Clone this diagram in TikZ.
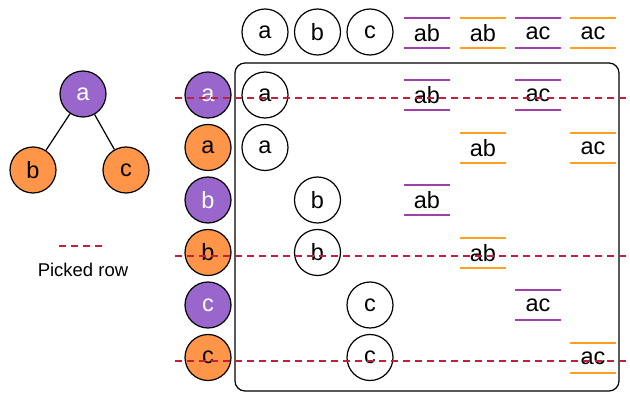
\documentclass[tikz,border=0pt]{standalone}
\usepackage{fontspec}
\setmainfont{Liberation Sans}
\definecolor{pfill}{HTML}{9966CC}
\definecolor{ofill}{HTML}{FF9548}
\definecolor{pline}{HTML}{A040A8}
\definecolor{oline}{HTML}{FFA020}
\definecolor{pick}{HTML}{C41E3A}
\begin{document}
\begin{tikzpicture}[x=1pt,y=-1pt,
  circ/.style={circle,draw=black,line width=1.2pt,minimum size=46pt,inner sep=0pt,font=\fontsize{23.5}{26}\selectfont},
  pc/.style={circ,fill=pfill,text=white},
  oc/.style={circ,fill=ofill,text=black},
  wc/.style={circ,fill=white},
  lbl/.style={inner sep=0pt,minimum width=46pt,minimum height=30pt,font=\fontsize{23.5}{26}\selectfont},
  pbar/.style={line width=2pt,draw=pline},
  obar/.style={line width=2pt,draw=oline},
  pickline/.style={draw=pick,line width=1.2pt,dash pattern=on 7pt off 5pt},
  edge/.style={draw=black,line width=1.2pt}]
\useasboundingbox (0,0) rectangle (630,393);
% tree
\node[pc] (ta) at (83,94) {a};
\node[oc] (tb) at (33,170) {b};
\node[oc] (tc) at (126,170) {c};
\draw[edge] (ta) -- (tb);
\draw[edge] (ta) -- (tc);
% legend
\coordinate (l1) at (59,246);
\coordinate (l2) at (104,246);
\draw[pickline] (l1) -- (l2);
\node[font=\fontsize{18.5}{20}\selectfont] (legend) at (83,270) {Picked row};
% box
\node[draw=black,line width=1.2pt,rounded corners=10pt,minimum width=384pt,minimum height=328pt,inner sep=0pt] (box) at (427,227) {};
% header
\node[wc] (ha) at (265,32) {a};
\node[wc] (hb) at (317.5,32) {b};
\node[wc] (hc) at (370,32) {c};
\node[lbl] (h1) at (427,33) {ab};
\node[lbl] (h2) at (483,33) {ab};
\node[lbl] (h3) at (538,33) {ac};
\node[lbl] (h4) at (593,33) {ac};
% left column
\node[pc] (r1) at (208,95) {a};
\node[oc] (r2) at (208,147.5) {a};
\node[pc] (r3) at (208,200) {b};
\node[oc] (r4) at (208,252.5) {b};
\node[pc] (r5) at (208,305) {c};
\node[oc] (r6) at (208,357.5) {c};
% body
\node[wc] (c1) at (265,95) {a};
\node[wc] (c2) at (265,147.5) {a};
\node[wc] (c3) at (317.5,200) {b};
\node[wc] (c4) at (317.5,252.5) {b};
\node[wc] (c5) at (370,305) {c};
\node[wc] (c6) at (370,357.5) {c};
\node[lbl] (e1) at (427,95) {ab};
\node[lbl] (e2) at (538,95) {ac};
\node[lbl] (e3) at (483,148) {ab};
\node[lbl] (e4) at (593,148) {ac};
\node[lbl] (e5) at (427,200) {ab};
\node[lbl] (e6) at (483,253) {ab};
\node[lbl] (e7) at (538,305) {ac};
\node[lbl] (e8) at (593,358) {ac};
\foreach \nm in {h1,h3,e1,e2,e5,e7}
  \draw[pbar] (\nm.north west) -- (\nm.north east) (\nm.south west) -- (\nm.south east);
\foreach \nm in {h2,h4,e3,e4,e6,e8}
  \draw[obar] (\nm.north west) -- (\nm.north east) (\nm.south west) -- (\nm.south east);
% picked rows
\coordinate (p1a) at (175,98);
\coordinate (p1b) at (630,98);
\coordinate (p2a) at (175,256);
\coordinate (p2b) at (630,256);
\coordinate (p3a) at (175,361);
\coordinate (p3b) at (630,361);
\draw[pickline] (p1a) -- (p1b);
\draw[pickline] (p2a) -- (p2b);
\draw[pickline] (p3a) -- (p3b);
\end{tikzpicture}
\end{document}
